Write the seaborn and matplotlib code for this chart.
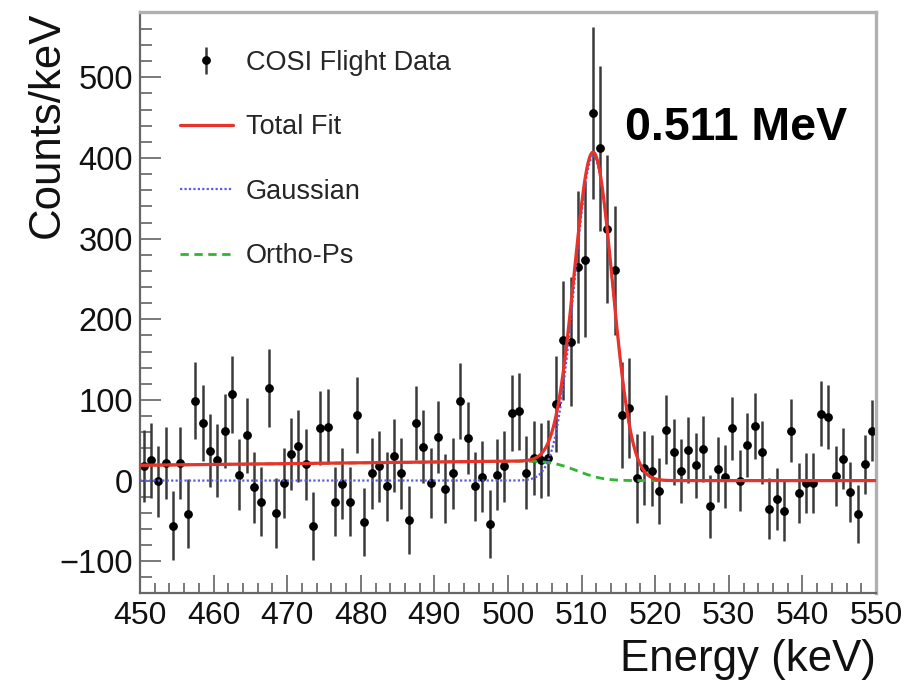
import math
import numpy as np
import pandas as pd
import matplotlib
matplotlib.use("Agg")
import matplotlib.pyplot as plt
from matplotlib.ticker import MultipleLocator
import seaborn as sns

# ---- measured spectrum (1 keV bins) ----
bin_lo, bin_hi = 450, 550
counts = [
    18, 25, -1, 22, -56, 22, -41, 99, 71, 37,
    25, 61, 107, 7, 56, -8, -26, 115, -40, -3,
    33, 43, 20, -56, 65, 67, -26, -4, -26, 81,
    -51, 9, 18, -7, 31, 9, -49, 71, 42, -3,
    54, -10, 9, 99, 53, -7, 5, -54, 7, 18,
    84, 86, 10, 28, 25, 28, 95, 174, 172, 265,
    274, 456, 412, 312, 261, 81, 90, 3, 16, 12,
    -13, 63, 35, 12, 38, 19, 39, -32, 14, 5,
    65, 0, 44, 68, 35, -35, -23, -38, 62, -15,
    -3, -3, 83, 79, 6, 27, -14, -41, 20, 62,
]
count_err = [
    45, 46, 44, 45, 43, 45, 43, 48, 47, 45,
    45, 46, 48, 44, 46, 44, 43, 48, 43, 44,
    45, 45, 44, 42, 46, 46, 43, 44, 43, 47,
    42, 44, 44, 43, 45, 44, 42, 46, 45, 43,
    45, 43, 44, 47, 45, 43, 44, 42, 44, 44,
    47, 48, 45, 46, 46, 47, 60, 74, 80, 94,
    96, 107, 102, 92, 80, 66, 62, 55, 46, 44,
    41, 43, 41, 40, 41, 40, 41, 39, 40, 39,
    39, 38, 40, 41, 39, 38, 38, 37, 39, 37,
    37, 37, 40, 40, 37, 38, 37, 36, 37, 38,
]
energy = [bin_lo + 0.5 + i for i in range(len(counts))]

# ---- fit parameters ----
gauss_amp, gauss_mean, gauss_sigma = 402.0, 511.6, 2.6
ops_level, ops_slope = 19.0, 0.1        # ortho-Ps continuum level at 450 keV and slope per keV
ops_edge, ops_width = 509.3, 2.8        # smeared cutoff of the ortho-Ps continuum

legend_labels = ["COSI Flight Data", "Total Fit", "Gaussian", "Ortho-Ps"]
x_ticks = list(range(450, 551, 10))
y_ticks = [-100, 0, 100, 200, 300, 400, 500]

spec = pd.DataFrame({"energy": energy, "counts": counts, "err": count_err})

e_grid = np.linspace(bin_lo, bin_hi, 1001)
gauss = gauss_amp * np.exp(-0.5 * ((e_grid - gauss_mean) / gauss_sigma) ** 2)
erfc = np.vectorize(math.erfc)
ortho = (ops_level + ops_slope * (e_grid - bin_lo)) * 0.5 * erfc((e_grid - ops_edge) / (math.sqrt(2) * ops_width))
total = gauss + ortho
curves = pd.DataFrame({"energy": e_grid, "gauss": gauss, "ortho": ortho, "total": total})

sns.set_theme(style="ticks")
plt.rcParams["font.family"] = ["Liberation Sans", "DejaVu Sans"]

W, H = 908, 688
fig = plt.figure(figsize=(W / 100, H / 100), dpi=100)
ax_l, ax_r, ax_t, ax_b = 140, 876, 12, 592.7
ax = fig.add_axes([ax_l / W, 1 - ax_b / H, (ax_r - ax_l) / W, (ax_b - ax_t) / H])

eb = ax.errorbar(spec["energy"], spec["counts"], yerr=spec["err"], fmt="o",
                 color="black", ms=5.3, ecolor="#3a3a3a", elinewidth=1.8,
                 capsize=0, zorder=2, label=legend_labels[0])

sns.lineplot(data=curves, x="energy", y="ortho", ax=ax, color="#2fb52f",
             linewidth=2.0, linestyle=(0, (3, 2)), zorder=3,
             label=legend_labels[3])
l_ops = ax.lines[-1]
sns.lineplot(data=curves, x="energy", y="gauss", ax=ax, color="#5a5ae6",
             linewidth=1.6, linestyle=(0, (1, 1)), zorder=4,
             label=legend_labels[2])
l_gau = ax.lines[-1]
sns.lineplot(data=curves, x="energy", y="total", ax=ax, color="#e8322b",
             linewidth=2.3, zorder=5, label=legend_labels[1])
l_tot = ax.lines[-1]

ax.set_xlim(bin_lo, bin_hi)
ax.set_ylim(-139, 581)
ax.set_xticks(x_ticks)
ax.set_yticks(y_ticks)
ax.xaxis.set_minor_locator(MultipleLocator(2))
ax.yaxis.set_minor_locator(MultipleLocator(20))

ax.tick_params(axis="both", which="both", direction="in", colors="#555555",
               labelcolor="#111111", top=False, right=False, width=1.1)
ax.tick_params(axis="x", which="major", length=13, labelsize=23, pad=6)
ax.tick_params(axis="x", which="minor", length=7)
ax.tick_params(axis="y", which="major", length=15, labelsize=23.5, pad=5)
ax.tick_params(axis="y", which="minor", length=8.5)

for side in ("left", "bottom"):
    ax.spines[side].set_color("#666666")
    ax.spines[side].set_linewidth(1.6)
for side in ("top", "right"):
    ax.spines[side].set_color("#b0b0b0")
    ax.spines[side].set_linewidth(2.4)

ax.set_xlabel("Energy (keV)", fontsize=31.5, loc="right", labelpad=6, color="#111111")
ax.set_ylabel("Counts/keV", fontsize=31.5, loc="top", labelpad=-6, color="#111111")

ax.legend(handles=[eb, l_tot, l_gau, l_ops], labels=legend_labels,
          loc="upper left", bbox_to_anchor=(0.054, 0.935), frameon=False,
          fontsize=19.5, handlelength=1.95, handletextpad=0.5,
          labelspacing=1.42, borderpad=0, borderaxespad=0)

fig.text(625 / W, 1 - 140 / H, "0.511 MeV", fontsize=33.5, fontweight="bold",
         ha="left", va="baseline", color="black")

fig.savefig("out.png", dpi=100)
